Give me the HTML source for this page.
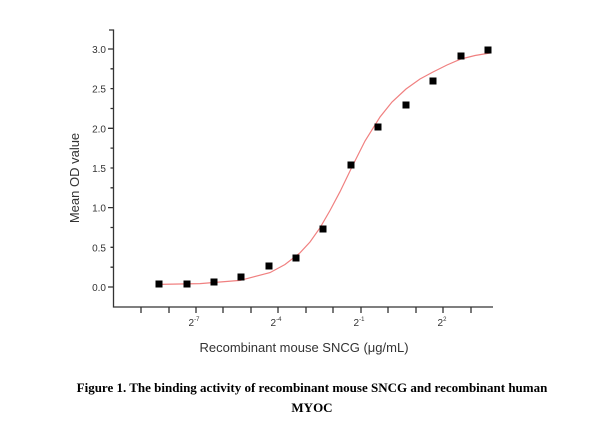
<!DOCTYPE html><html><head><style>body{margin:0;background:#fff}</style></head><body>
<svg width="607" height="435" xmlns="http://www.w3.org/2000/svg" font-family="Liberation Sans, sans-serif">
<g stroke="#333" stroke-width="1.3" fill="none">
<path d="M109,30H113.5V307H493"/>
<path d="M113.5,49H108M113.5,88.6H110.5M113.5,128.3H108M113.5,168H110.5M113.5,207.6H108M113.5,247.3H110.5M113.5,287H108M113.5,267.2H110.5M113.5,227.5H110.5M113.5,187.8H110.5M113.5,148.1H110.5M113.5,108.5H110.5M113.5,68.8H110.5"/>
<path d="M141,307v6M169,307v6M196,307v6M223,307v6M251,307v6M278,307v6M306,307v6M333,307v6M361,307v6M388,307v6M416,307v6M443,307v6M471,307v6"/>
</g>
<g font-size="10" fill="#333" text-anchor="end">
<text x="106" y="53">3.0</text><text x="106" y="92.6">2.5</text><text x="106" y="132.3">2.0</text><text x="106" y="172">1.5</text><text x="106" y="211.6">1.0</text><text x="106" y="251.3">0.5</text><text x="106" y="291">0.0</text>
</g>
<g font-size="10" fill="#333" text-anchor="middle">
<text x="194" y="326">2<tspan font-size="6" dy="-5">-7</tspan></text>
<text x="276" y="326">2<tspan font-size="6" dy="-5">-4</tspan></text>
<text x="359" y="326">2<tspan font-size="6" dy="-5">-1</tspan></text>
<text x="442" y="326">2<tspan font-size="6" dy="-5">2</tspan></text>
</g>
<text x="304" y="352" font-size="13" fill="#333" text-anchor="middle">Recombinant mouse SNCG (μg/mL)</text>
<text transform="translate(79,178) rotate(-90)" font-size="13" fill="#333" text-anchor="middle">Mean OD value</text>
<polyline fill="none" stroke="#f08080" stroke-width="1.2" points="159,284.4 200,283.6 240,280.4 270,272.6 285,264.5 300,252.8 310,242 320,227.8 330,210.5 340,191.7 352,166.9 365,141 380,117 392,102 406,89 420,79 433,72 447,65 461,59 475,55.5 490,53"/>
<g fill="#000">
<rect x="155.5" y="280.5" width="7" height="7"/><rect x="183.5" y="280.5" width="7" height="7"/><rect x="210.5" y="278.5" width="7" height="7"/><rect x="237.5" y="273.5" width="7" height="7"/><rect x="265.5" y="262.5" width="7" height="7"/><rect x="292.5" y="254.5" width="7" height="7"/><rect x="319.5" y="225.5" width="7" height="7"/><rect x="347.5" y="161.5" width="7" height="7"/><rect x="374.5" y="123.5" width="7" height="7"/><rect x="402.5" y="101.5" width="7" height="7"/><rect x="429.5" y="77.5" width="7" height="7"/><rect x="457.5" y="52.5" width="7" height="7"/><rect x="484.5" y="46.5" width="7" height="7"/>
</g>
<g font-family="Liberation Serif, serif" font-weight="bold" font-size="13" fill="#000" text-anchor="middle">
<text x="312" y="392">Figure 1. The binding activity of recombinant mouse SNCG and recombinant human</text>
<text x="312" y="412">MYOC</text>
</g>
</svg>
</body></html>
